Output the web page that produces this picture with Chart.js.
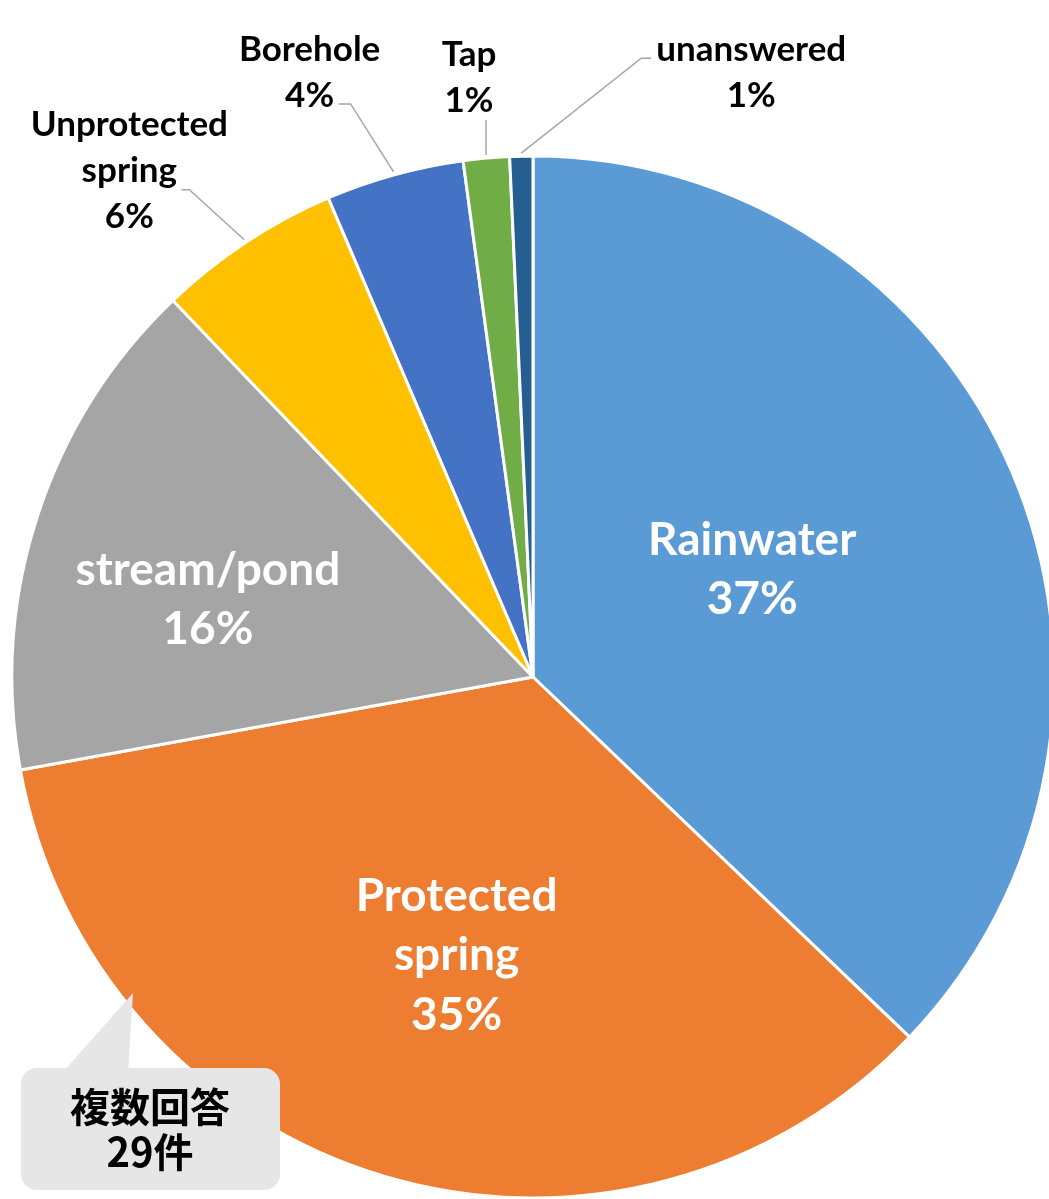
<!DOCTYPE html>
<html>
<head>
<meta charset="utf-8">
<script src="https://cdn.jsdelivr.net/npm/chart.js@4.4.0/dist/chart.umd.min.js"></script>
<style>
  html, body { margin: 0; padding: 0; background: #fff; overflow: hidden; }
  #wrap { position: relative; width: 1049px; height: 1199px; }
</style>
</head>
<body>
<div id="wrap"><canvas id="sourceChart"></canvas></div>
<script>
// Water sources (multiple answers allowed)
const categoryLines = [
    ['Rainwater'],
    ['Protected', 'spring'],
    ['stream/pond'],
    ['Unprotected', 'spring'],
    ['Borehole'],
    ['Tap'],
    ['unanswered']
];
const counts = [52, 49, 22, 8, 6, 2, 1];
const sliceColors = ['#5B9BD5', '#ED7D31', '#A5A5A5', '#FFC000', '#4472C4', '#70AD47', '#255E91'];
const noteLines = ['複数回答', '29件'];

const categories = categoryLines.map(l => l.join(' '));
const total = counts.reduce((a, b) => a + b, 0);

// where each label goes: inside slices along the mid-angle, outside ones with a leader line
const labelLayout = [
    { inside: true, r: 0.47, dx: -6, dy: -13 },
    { inside: true, r: 0.55, dx: 6, dy: 2 },
    { inside: true, r: 0.64, dx: -8, dy: 24 },
    { text: [-115, -70], elbow: [-55, -50], end: [-63, -50] },
    { text: [-84, -100], elbow: [-43, -68], end: [-55, -68] },
    { text: [-17, -79], elbow: [0, -35], end: [0, -35] },
    { text: [230, -82], elbow: [120, -95], end: [130, -95] }
];

const FONT = '"Lato", "Noto Sans", sans-serif';
const CJK_FONT = '"Noto Sans CJK JP", "Noto Sans", sans-serif';

const drawLines = (ctx, lines, cx, cy, size, lineHeight, color, family) => {
    ctx.font = `bold ${size}px ${family}`;
    ctx.fillStyle = color;
    ctx.textAlign = 'center';
    ctx.textBaseline = 'alphabetic';
    const top = cy - (lines.length - 1) * lineHeight / 2;
    lines.forEach((line, i) => {
        ctx.fillText(line, cx, top + i * lineHeight + size * 0.36);
    });
};

const sliceLabels = {
    id: 'sliceLabels',
    afterDatasetsDraw(chart) {
        const ctx = chart.ctx;
        const arcs = chart.getDatasetMeta(0).data;
        ctx.save();
        arcs.forEach((arc, i) => {
            const { x, y, startAngle, endAngle, outerRadius } = arc.getProps(['x', 'y', 'startAngle', 'endAngle', 'outerRadius'], true);
            const mid = (startAngle + endAngle) / 2;
            const pct = Math.round(counts[i] / total * 100) + '%';
            const lines = categoryLines[i].concat([pct]);
            const lay = labelLayout[i];
            if (lay.inside) {
                const cx = x + Math.cos(mid) * outerRadius * lay.r + lay.dx;
                const cy = y + Math.sin(mid) * outerRadius * lay.r + lay.dy;
                drawLines(ctx, lines, cx, cy, 46, 59.5, '#FFFFFF', FONT);
            } else {
                const ax = x + Math.cos(mid) * (outerRadius + 3);
                const ay = y + Math.sin(mid) * (outerRadius + 3);
                ctx.strokeStyle = '#A6A6A6';
                ctx.lineWidth = 1.5;
                ctx.beginPath();
                ctx.moveTo(ax, ay);
                ctx.lineTo(ax + lay.elbow[0], ay + lay.elbow[1]);
                ctx.lineTo(ax + lay.end[0], ay + lay.end[1]);
                ctx.stroke();
                drawLines(ctx, lines, ax + lay.text[0], ay + lay.text[1], 35, 46, '#000000', FONT);
            }
        });
        ctx.restore();
    }
};

const noteCallout = {
    id: 'noteCallout',
    afterDraw(chart) {
        const ctx = chart.ctx;
        ctx.save();
        ctx.fillStyle = '#E7E6E6';
        ctx.beginPath();
        ctx.moveTo(63, 1072);
        ctx.lineTo(133, 993);
        ctx.lineTo(128, 1072);
        ctx.closePath();
        ctx.fill();
        ctx.beginPath();
        ctx.roundRect(21, 1068, 259, 122, 16);
        ctx.fill();
        drawLines(ctx, noteLines, 150, 1130, 40, 45, '#000000', CJK_FONT);
        ctx.restore();
    }
};

new Chart(document.getElementById('sourceChart'), {
    type: 'pie',
    data: {
        labels: categories,
        datasets: [{
            data: counts,
            backgroundColor: sliceColors,
            borderColor: '#FFFFFF',
            borderWidth: 3,
            radius: 521,
            clip: false
        }]
    },
    options: {
        responsive: true,
        maintainAspectRatio: false,
        animation: false,
        layout: { padding: { left: 17, top: 155, right: 0, bottom: 0 } },
        plugins: {
            legend: { display: false },
            tooltip: { enabled: false }
        }
    },
    plugins: [sliceLabels, noteCallout]
});
</script>
</body>
</html>
